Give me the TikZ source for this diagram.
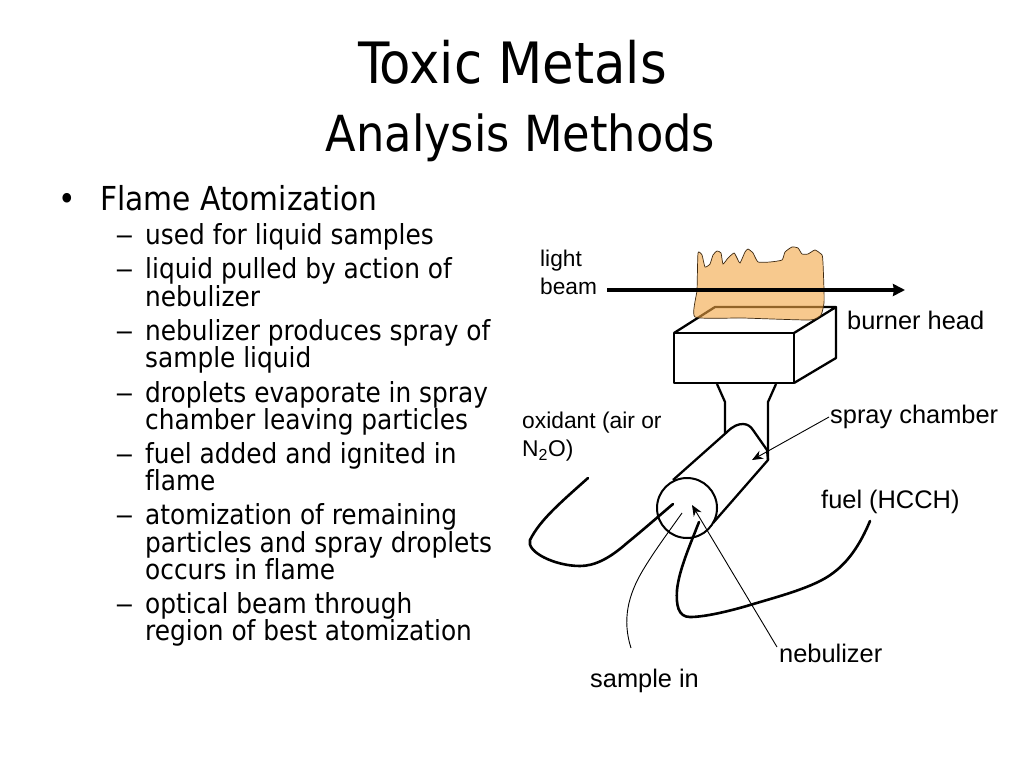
\documentclass[tikz,border=0pt]{standalone}
\usepackage{fontspec}
\setmainfont{Liberation Sans}
\newfontfamily\slidefont[Ligatures=NoCommon]{DejaVu Sans Condensed}
\usetikzlibrary{arrows.meta}
\definecolor{flamefill}{HTML}{F3A543}
\tikzset{
  x=1pt,y=-1pt,
  titletext/.style={font=\slidefont\fontsize{57}{57}\selectfont,anchor=base,inner sep=0},
  subtext/.style={font=\slidefont\fontsize{49.7}{49.7}\selectfont,anchor=base,inner sep=0},
  headtext/.style={font=\slidefont\fontsize{33}{33}\selectfont,anchor=base west,inner sep=0},
  itemtext/.style={font=\slidefont\fontsize{27.6}{27.6}\selectfont,anchor=base west,inner sep=0},
  label/.style={font=\fontsize{25.4}{25.4}\selectfont,anchor=base west,inner sep=0},
  smalllabel/.style={font=\fontsize{22.7}{22.7}\selectfont,anchor=base west,inner sep=0},
  outline/.style={draw=black,line width=2.3pt,line join=round},
  tube/.style={draw=black,line width=2.6pt,line cap=round},
  leader/.style={draw=black,line width=0.9pt},
  tipleader/.style={leader,-{Stealth[length=11pt,width=9pt]}}
}
\begin{document}
\begin{tikzpicture}
\useasboundingbox (0,0) rectangle (1024,768);
\fill[white] (0,0) rectangle (1024,768);
\node[titletext] (t1) at (512.5,83) {Toxic Metals};
\node[subtext] (t2) at (520.5,151) {Analysis Methods};
\node[headtext,anchor=base] (bul) at (67,210) {•};
\node[headtext] (h) at (100,210) {Flame Atomization};
\foreach \n/\y/\s/\d in {a/244/used for liquid samples/1,
 b/278/liquid pulled by action of/1, c/306/nebulizer/0,
 d/340/nebulizer produces spray of/1, e/367/sample liquid/0,
 f/402/droplets evaporate in spray/1, g/429/chamber leaving particles/0,
 i/463/fuel added and ignited in/1, j/490/flame/0,
 k/524/atomization of remaining/1, l/552/particles and spray droplets/0, m/579/occurs in flame/0,
 n/613/optical beam through/1, o/640/region of best atomization/0}{
  \node[itemtext] (it\n) at (145,\y) {\s};
  \ifnum\d=1 \node[itemtext] (ds\n) at (115,\y) {\scalebox{1.5}[1]{–}};\fi
}
% burner
\coordinate (b1) at (674,333); \coordinate (b2) at (794,333); \coordinate (b3) at (794,383); \coordinate (b4) at (674,383);
\coordinate (b5) at (836,307); \coordinate (b6) at (836,358); \coordinate (b7) at (715,307);
\draw[outline] (b1) -- (b2) -- (b3) -- (b4) -- cycle;
\draw[outline] (b1) -- (b7) -- (b5) -- (b2) (b5) -- (b6) -- (b3);
% flame
\path[fill=flamefill,draw=black!75!flamefill,line width=0.7pt,fill opacity=0.6]
 plot[smooth cycle,tension=0.3] coordinates {(698,253)(702,255)(705,267)(710,264)(713,255)(717,251)(721,253)(723,264)(728,258)(734,253)(737,258)(740,263)(745,252)(748,249)(753,253)(758,262)(770,262)(782,260)(785,252)(792,247)(798,248)(802,254)(808,254)(815,250)(822,255)(823,263)(824,290)(824,303)(821,315)(810,320)(743,318)(695,317)(697,290)};
% neck
\draw[outline] (717,384) -- (725,402) -- (725,433);
\draw[outline] (776,384) -- (768,402) -- (768,460);
% chamber
\draw[outline] (673,480) -- (727,432) .. controls (733,426) and (738,424) .. (743,424) .. controls (748,424) and (751,427) .. (753,430) -- (767,450) -- (768,460) -- (713,523);
\node[circle,draw=black,line width=2pt,minimum size=60pt,inner sep=0] (noz) at (687,508) {};
% tubes
\draw[tube] (588,478) .. controls (560,503) and (540,520) .. (530,540) .. controls (526,552) and (555,566) .. (580,566) .. controls (595,566) and (610,558) .. (627,543) .. controls (643,530) and (660,515) .. (673,504);
\draw[tube] (870,521) .. controls (860,545) and (848,562) .. (833,573) .. controls (815,587) and (780,596) .. (750,605) .. controls (730,611) and (705,617) .. (690,617) .. controls (678,617) and (676,605) .. (677,590) .. controls (679,570) and (690,545) .. (699,522);
% beam
\coordinate (beamstart) at (607,290); \coordinate (beamend) at (905,290);
\draw[line width=3.4pt,-{Stealth[length=12pt,width=12pt,inset=1pt]}] (beamstart) -- (beamend);
% labels
\node[smalllabel] (lb1) at (540,266) {light};
\node[smalllabel] (lb2) at (540,294) {beam};
\node[label] (burner) at (847,329) {burner head};
\node[label] (spray) at (830,423) {spray chamber};
\node[smalllabel,font=\fontsize{22.8}{22.8}\selectfont] (ox1) at (522,428) {oxidant (air or};
\node[smalllabel,font=\fontsize{22.8}{22.8}\selectfont] (ox2) at (522,456) {N\textsubscript{2}O)};
\node[label] (fuel) at (821,508) {fuel (HCCH)};
\node[label] (neb) at (779,662) {nebulizer};
\node[label] (samp) at (590,687) {sample in};
% leaders
\coordinate (spraystart) at (829,417); \coordinate (spraytip) at (752,460); \coordinate (nebtip) at (692,505);
\coordinate (nebend) at (777,647); \coordinate (sampstart) at (631,648); \coordinate (sampend) at (682,513);
\draw[tipleader] (spraystart) -- (spraytip);
\draw[tipleader] (nebend) -- (nebtip);
\draw[leader] (sampstart) .. controls (622,620) and (628,595) .. (643,570) .. controls (655,550) and (670,530) .. (sampend);
\end{tikzpicture}
\end{document}
